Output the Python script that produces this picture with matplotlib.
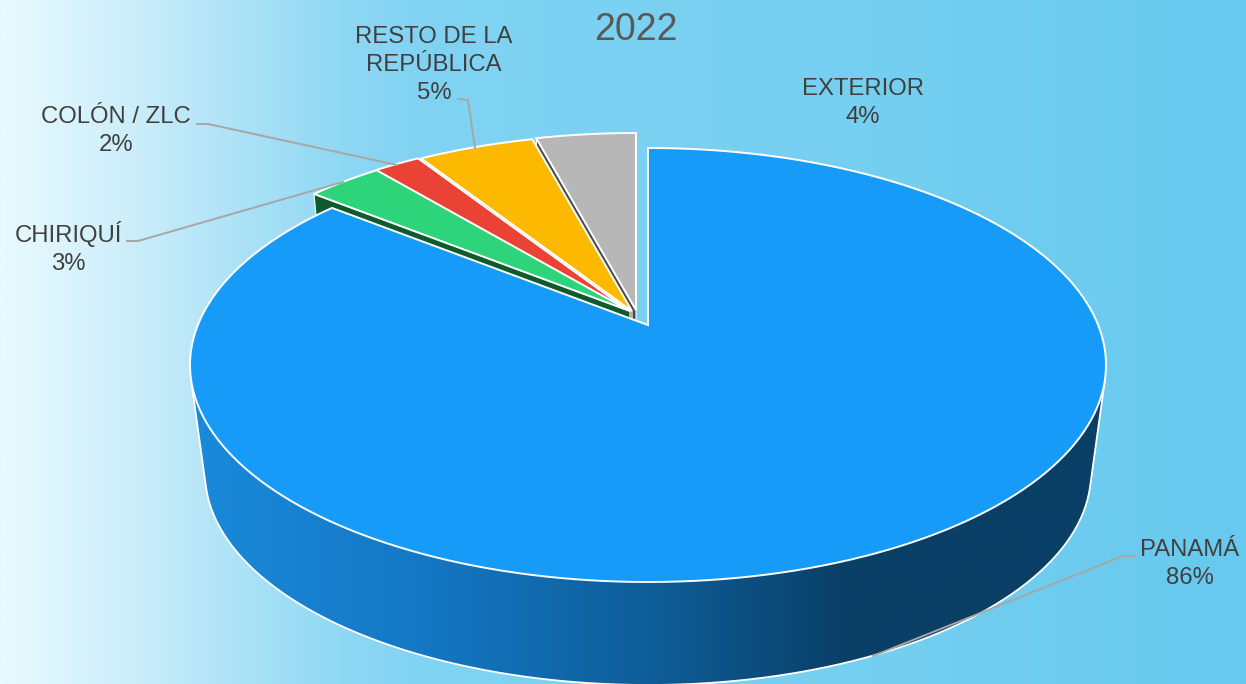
import numpy as np
import matplotlib
matplotlib.use("Agg")
import matplotlib.pyplot as plt
from matplotlib.patches import Polygon
from matplotlib.colors import LinearSegmentedColormap

plt.rcParams['font.family'] = ['Liberation Sans', 'DejaVu Sans']

#======== data ========
names = ["PANAMÁ", "CHIRIQUÍ", "COLÓN / ZLC", "RESTO DE LA\nREPÚBLICA", "EXTERIOR"]
values = [85.7, 3.2, 2.0, 4.9, 4.2]  # labels show them rounded
title = "2022"

#======== styles ========
top_colors = ["#169bf9", "#2ed47a", "#ea4335", "#fdb900", "#b7b7b7"]
wall_colors = ["#0f6fb5", "#0f5a2e", "#8c2820", "#6b4f00", "#4a4a4a"]
shift = [(0, 0), (-18, -14), (-19, -14), (-16, -14), (-12, -15)]  # exploded slices, px

label_xy = [(1190, 564), (68, 248), (116, 131), (434, 65), (863, 103)]
leaders = [
    [(1135, 556), (1123, 556), (873, 656)],
    [(127, 241), (138, 241), (343, 182)],
    [(197, 124), (208, 124), (397, 165)],
    [(458, 99), (468, 100), (475, 148)],
]

W, H = 1246, 684
cx = 648
top_cy, top_rx, top_ry = 365, 458, 217
bot_cy, bot_rx, bot_ry = 473, 443, 212
persp = 0.184  # how far the pie centre sits above the ellipse centre


def project(theta, r, cy, rx, ry):
    # point of the pie disc (clockwise from 12 o'clock) to pixels, with perspective
    u = r * np.sin(theta)
    v = r * np.cos(theta)
    d = 1 + persp * v
    v2 = (v + persp) / d
    u2 = u * np.sqrt(1 - persp ** 2) / d
    return np.column_stack([cx + rx * u2, cy - ry * v2])


def top_pt(theta, r=1.0):
    return project(np.atleast_1d(theta), r, top_cy, top_rx, top_ry)


def bot_pt(theta, r=1.0):
    return project(np.atleast_1d(theta), r, bot_cy, bot_rx, bot_ry)


fig = plt.figure(figsize=(W / 100, H / 100), dpi=100)
ax = fig.add_axes([0, 0, 1, 1])
ax.set_xlim(0, W)
ax.set_ylim(H, 0)
ax.axis("off")

#======== background ========
bg = LinearSegmentedColormap.from_list("bg", [
    (0.0, "#eafaff"), (0.10, "#cdeefa"), (0.28, "#8dd7f3"),
    (0.34, "#80d3f3"), (0.70, "#75cff1"), (1.0, "#67c9ee")])
ramp = np.linspace(0, 1, 512).reshape(1, -1)
ax.imshow(ramp, cmap=bg, extent=[0, W, H, 0], aspect="auto", zorder=0)

#======== outer wall of the big slice ========
phi = np.radians(3.8)
t = np.linspace(phi, np.pi - phi, 200)
low = np.column_stack([cx + bot_rx * np.cos(t), bot_cy + bot_ry * np.sin(t)])
up = np.column_stack([cx + top_rx * np.cos(t), top_cy + top_ry * np.sin(t)])[::-1]
outline = np.vstack([low, up])
wall_cm = LinearSegmentedColormap.from_list("wall", [
    (0.0, "#1a8ada"), (0.25, "#1478c4"), (0.50, "#0e5e99"),
    (0.72, "#0a3f66"), (1.0, "#0a3f66")])
img = ax.imshow(ramp, cmap=wall_cm, extent=[190, 1106, H, 0], aspect="auto", zorder=1)
wall = Polygon(outline, closed=True, fc="none", ec="none", transform=ax.transData)
ax.add_patch(wall)
img.set_clip_path(wall)
ax.plot(low[:, 0], low[:, 1], color="white", lw=1.3, zorder=2)
ax.plot([low[0, 0], up[-1, 0]], [low[0, 1], up[-1, 1]], color="white", lw=1.3, zorder=2)
ax.plot([low[-1, 0], up[0, 0]], [low[-1, 1], up[0, 1]], color="white", lw=1.3, zorder=2)

#======== slices ========
edges = 2 * np.pi * np.cumsum([0] + values) / sum(values)
z = 3
# smaller slices first, from the back; the big one covers their walls
for i in [4, 3, 2, 1, 0]:
    a0, a1 = edges[i], edges[i + 1]
    off = np.array(shift[i])
    arc = np.linspace(a0, a1, 200)
    centre_top = top_pt(0.0, 0.0) + off
    if i > 0:
        side = np.vstack([centre_top, top_pt(a0) + off, bot_pt(a0) + off, bot_pt(0.0, 0.0) + off])
        ax.add_patch(Polygon(side, closed=True, fc=wall_colors[i], ec="white", lw=0.8, zorder=z))
        z += 1
    face = np.vstack([centre_top, top_pt(arc) + off])
    ax.add_patch(Polygon(face, closed=True, fc=top_colors[i], ec="white", lw=1.4, joinstyle="miter", zorder=z))
    z += 1

#======== leaders and labels ========
for pts in leaders:
    xs, ys = zip(*pts)
    ax.plot(xs, ys, color="#a6a6a6", lw=1.4, zorder=z)
z += 1

for name, val, (x, y) in zip(names, values, label_xy):
    ax.text(x, y, f"{name}\n{val:.0f}%", ha="center", va="center", fontsize=17.2,
            color="#404040", linespacing=1.33, zorder=z)

ax.text(636, 30, title, ha="center", va="center", fontsize=27, color="#595959", zorder=z)

fig.savefig("out.png", dpi=100)
